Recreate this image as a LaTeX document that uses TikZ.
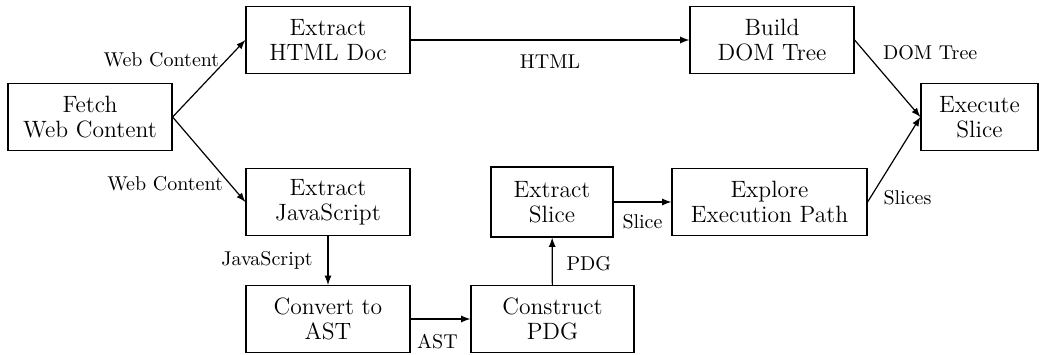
\documentclass[tikz,border=0pt]{standalone}
\usepackage{tikz}
\usetikzlibrary{arrows.meta}
\newcommand{\testoBlocco}{\fontsize{11.8}{12.5}\selectfont}
\newcommand{\testoFreccia}{\fontsize{10}{12}\selectfont}

\begin{document}
\begin{tikzpicture}[x = 0.5pt, y = -0.5pt, line width = 0.6pt,
    blocco/.style = {draw, align = center, minimum width = 82pt, minimum height = 33.5pt, inner sep = 2pt, font = \testoBlocco},
    freccia/.style = {-latex},
    etichetta/.style = {font = \testoFreccia}]
    \pgfmathsetmacro{\rigaSu}{40}
    \pgfmathsetmacro{\rigaMezzo}{117}
    \pgfmathsetmacro{\rigaGiu}{202}
    \pgfmathsetmacro{\rigaFondo}{319}
    \useasboundingbox (0,0) rectangle (1040,354);
    % Blocchi
    \node[blocco] (fetchWeb) at (90,\rigaMezzo) {Fetch\\Web Content};
    \node[blocco] (extractHtml) at (328,\rigaSu) {Extract\\HTML Doc};
    \node[blocco] (buildDom) at (772,\rigaSu) {Build\\DOM Tree};
    \node[blocco, minimum width = 58.5pt] (executeSlice) at (979.5,\rigaMezzo) {Execute\\Slice};
    \node[blocco] (extractJs) at (328,\rigaGiu) {Extract\\JavaScript};
    \node[blocco, minimum width = 61pt, minimum height = 35pt] (extractSlice) at (552,\rigaGiu) {Extract\\Slice};
    \node[blocco, minimum width = 97.5pt] (exploreExec) at (769.5,\rigaGiu) {Explore\\Execution Path};
    \node[blocco] (convertAst) at (328,\rigaFondo) {Convert to\\AST};
    \node[blocco, minimum width = 81.5pt] (constructPdg) at (552.5,\rigaFondo) {Construct\\PDG};
    % Frecce
    \draw[freccia] (fetchWeb.east) -- (extractHtml.west) node[etichetta, pos = 0.74, left]{Web Content};
    \draw[freccia] (fetchWeb.east) -- (extractJs.west) node[etichetta, pos = 0.79, left]{Web Content};
    \draw[freccia] (extractHtml) -- (buildDom) node[etichetta, pos = 0.5, below = 4pt]{HTML};
    \draw[freccia] (buildDom.east) -- (executeSlice.west) node[etichetta, pos = 0.17, right = 5pt]{DOM Tree};
    \draw[freccia] (extractJs) -- (convertAst) node[etichetta, pos = 0.5, left = 4pt]{JavaScript};
    \draw[freccia] (convertAst) -- (constructPdg) node[etichetta, pos = 0.45, below = 4pt]{AST};
    \draw[freccia] (constructPdg) -- (extractSlice) node[etichetta, pos = 0.45, right = 3.5pt]{PDG};
    \draw[freccia] (extractSlice) -- (exploreExec) node[etichetta, pos = 0.5, below = 2.5pt]{Slice};
    \draw[freccia] (exploreExec.east) -- (executeSlice.west) node[etichetta, pos = 0.05, right = 3pt]{Slices};
\end{tikzpicture}
\end{document}
